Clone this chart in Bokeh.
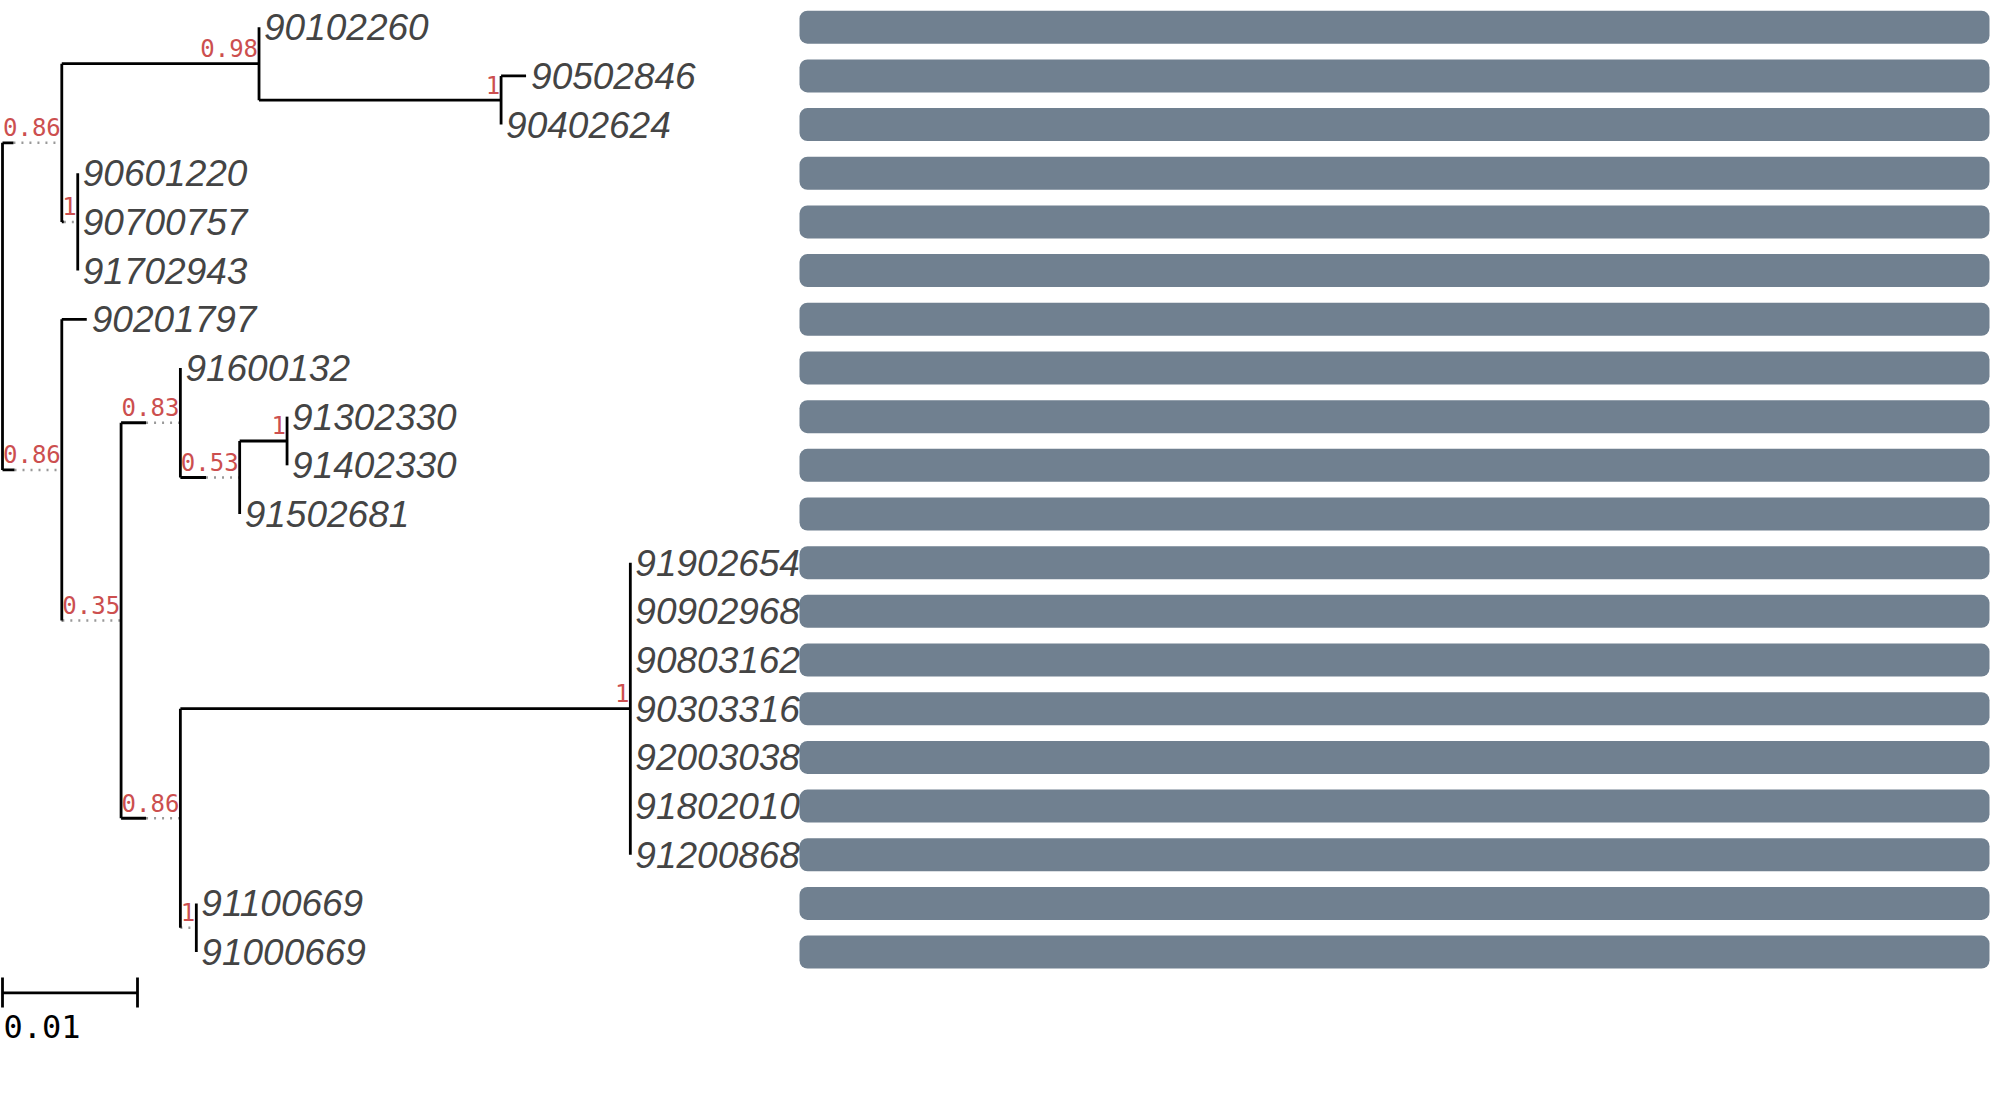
from bokeh.plotting import figure
from bokeh.models import Range1d, ColumnDataSource, HBar
from bokeh.core.properties import value
from bokeh.embed import file_html
from bokeh.resources import INLINE

# ---------------- data ----------------
node_names = ["root", "A", "A1", "90102260", "A1b", "90502846", "90402624",
              "A2", "90601220", "90700757", "91702943",
              "B", "90201797", "B2", "B3", "91600132", "B4", "B4a",
              "91302330", "91402330", "91502681",
              "B5", "C", "91902654", "90902968", "90803162", "90303316",
              "92003038", "91802010", "91200868",
              "D", "91100669", "91000669"]
node_parents = [None, "root", "A", "A1", "A1", "A1b", "A1b",
                "A", "A2", "A2", "A2",
                "root", "B", "B", "B2", "B3", "B3", "B4",
                "B4a", "B4a", "B4",
                "B2", "B5", "C", "C", "C", "C",
                "C", "C", "C",
                "B5", "D", "D"]
branch_lengths = [0.0, 0.00081, 0.01461, 0.0, 0.01793, 0.00185, 0.0,
                  0.00015, 0.0, 0.0, 0.0,
                  0.00089, 0.00185, 0.00004, 0.00185, 0.0, 0.0019, 0.00351,
                  0.0, 0.0, 0.0,
                  0.00185, 0.03333, 0.0, 0.0, 0.0, 0.0,
                  0.0, 0.0, 0.0,
                  0.0, 0.0, 0.0]
supports = [None, "0.86", "0.98", None, "1", None, None,
            "1", None, None, None,
            "0.86", None, "0.35", "0.83", None, "0.53", "1",
            None, None, None,
            "0.86", "1", None, None, None, None,
            None, None, None,
            "1", None, None]
bar_values = [1, 1, 1, 1, 1, 1, 1, 1, 1, 1,
              1, 1, 1, 1, 1, 1, 1, 1, 1, 1]
scale_bar_length = 0.01
scale_bar_label = "0.01"

# ---------------- layout constants ----------------
W, H = 1991, 1097
PX_PER_UNIT = 13500.0      # 0.01 -> 135 px
ROOT_PX = 2.0
ROW0_PX = 26.7
ROW_H_PX = 48.68
BAR_LEFT_PX = 799.0
BAR_RIGHT_PX = W - 2.0
SUP_FS = 24
SUP_CHAR_W = 0.602 * SUP_FS

def dist(px):
    return (px - ROOT_PX) / PX_PER_UNIT

def row(py):
    return (py - ROW0_PX) / ROW_H_PX

# ---------------- tree layout ----------------
idx = {n: i for i, n in enumerate(node_names)}
children = {n: [] for n in node_names}
for n, par in zip(node_names, node_parents):
    if par is not None:
        children[par].append(n)

nx, ny, solid_end = {}, {}, {}
leaf_order = []

def place_x(n, px):
    nx[n] = px
    for c in children[n]:
        i = idx[c]
        se = px + branch_lengths[i] * PX_PER_UNIT
        cx = se
        if supports[i] is not None:
            cx = max(se, px + len(supports[i]) * SUP_CHAR_W + 1.5)
        solid_end[c] = se
        place_x(c, cx)

def place_y(n):
    if not children[n]:
        ny[n] = len(leaf_order)
        leaf_order.append(n)
    else:
        for c in children[n]:
            place_y(c)
        ny[n] = (ny[children[n][0]] + ny[children[n][-1]]) / 2.0

place_x("root", ROOT_PX)
place_y("root")

sx0, sy0, sx1, sy1 = [], [], [], []
dx0, dy0, dx1, dy1 = [], [], [], []
for n in node_names:
    par = node_parents[idx[n]]
    if par is not None:
        p0 = nx[par]
        se = solid_end[n]
        if se - p0 > 0.3:
            sx0.append(dist(p0)); sx1.append(dist(se)); sy0.append(ny[n]); sy1.append(ny[n])
        if nx[n] - se > 0.5:
            dx0.append(dist(se)); dx1.append(dist(nx[n])); dy0.append(ny[n]); dy1.append(ny[n])
    if children[n]:
        ys = [ny[c] for c in children[n]]
        sx0.append(dist(nx[n])); sx1.append(dist(nx[n])); sy0.append(min(ys)); sy1.append(max(ys))

# ---------------- figure ----------------
p = figure(width=W, height=H, output_backend="svg", toolbar_location=None,
           x_range=Range1d(dist(0), dist(W)), y_range=Range1d(row(H), row(0)),
           x_axis_location=None, y_axis_location=None, min_border=0)
p.outline_line_color = None
p.xgrid.visible = False
p.ygrid.visible = False
p.background_fill_color = "white"
p.border_fill_color = "white"

bar_full = BAR_RIGHT_PX - BAR_LEFT_PX
p.extra_x_ranges = {"bars": Range1d((0 - BAR_LEFT_PX) / bar_full, (W - BAR_LEFT_PX) / bar_full)}

bar_src = ColumnDataSource(dict(y=list(range(len(leaf_order))), right=bar_values))
bar_kw = {}
if "border_radius" in HBar.properties():
    bar_kw["border_radius"] = 8
p.hbar(y="y", left=0, right="right", height=33.0 / ROW_H_PX, source=bar_src,
       x_range_name="bars", fill_color="#708090", line_color=None, **bar_kw)

p.segment(dx0, dy0, dx1, dy1, line_color="#999999", line_width=2.5, line_dash="2 6")
p.segment(sx0, sy0, sx1, sy1, line_color="black", line_width=2.8)

# leaf labels
leaf_src = ColumnDataSource(dict(x=[dist(nx[n]) for n in leaf_order],
                                 y=[ny[n] for n in leaf_order], t=leaf_order))
p.text(x="x", y="y", text="t", source=leaf_src, x_offset=5,
       text_font=value("Liberation Sans"), text_font_style="italic",
       text_font_size="37px", text_color="#444444", text_baseline="middle",
       text_align="left")

# support labels (placed just above the node's branch)
sup_nodes = [n for n in node_names if supports[idx[n]] is not None]
sup_src = ColumnDataSource(dict(x=[dist(nx[n] - 1) for n in sup_nodes],
                                y=[ny[n] - 15.5 / ROW_H_PX for n in sup_nodes],
                                t=[supports[idx[n]] for n in sup_nodes]))
p.text(x="x", y="y", text="t", source=sup_src,
       text_font=value("DejaVu Sans Mono"), text_font_size=f"{SUP_FS}px",
       text_color="#cc4f4f", text_baseline="middle", text_align="right")

# scale bar
yb = row(992.3)
yt0, yt1 = row(977), row(1007)
p.segment([0, 0, scale_bar_length], [yb, yt0, yt0], [scale_bar_length, 0, scale_bar_length],
          [yb, yt1, yt1], line_color="black", line_width=2.8)
p.text(x=[dist(3)], y=[row(1026)], text=[scale_bar_label],
       text_font=value("DejaVu Sans Mono"), text_font_size="32px",
       text_color="black", text_baseline="middle", text_align="left")

open("out.html", "w").write(file_html(p, INLINE))
